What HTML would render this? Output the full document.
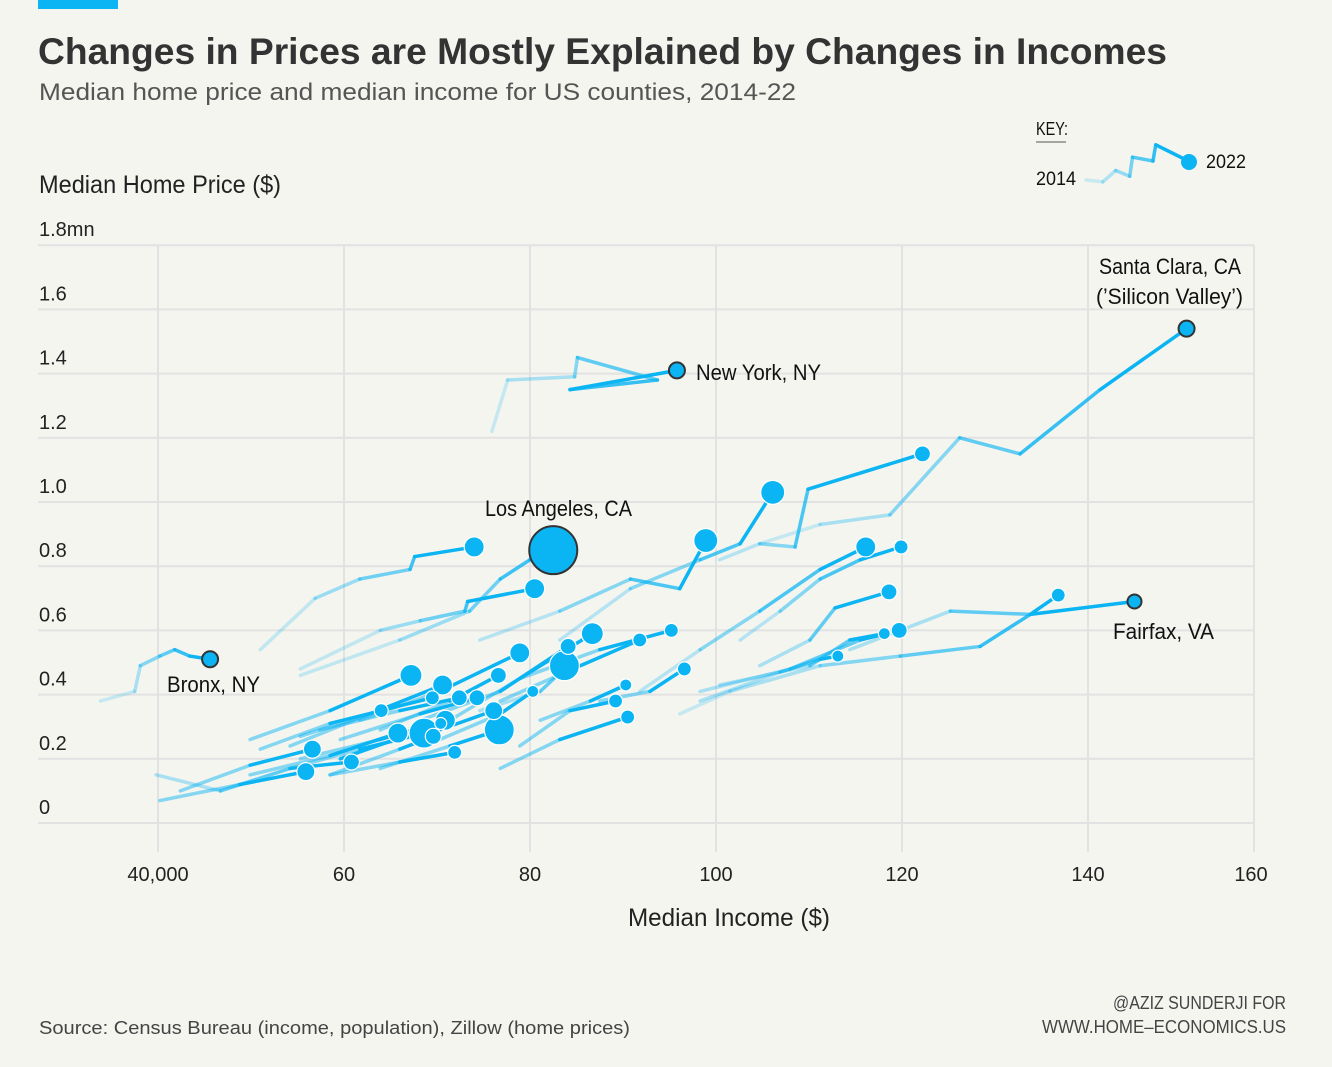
<!DOCTYPE html>
<html><head><meta charset="utf-8">
<style>
body{margin:0;background:#f5f5f0;}
svg{display:block;font-family:"Liberation Sans",sans-serif;}
</style></head>
<body>
<svg id="chart" width="1332" height="1067" viewBox="0 0 1332 1067">
<rect x="0" y="0" width="1332" height="1067" fill="#f5f5f0"/>
<rect x="38" y="0" width="80" height="9" fill="#0bb4f2"/>
<text x="38" y="64" font-weight="bold" font-size="37" fill="#333" textLength="1129" lengthAdjust="spacingAndGlyphs">Changes in Prices are Mostly Explained by Changes in Incomes</text>
<text x="39" y="100" font-size="24" fill="#555" textLength="757" lengthAdjust="spacingAndGlyphs">Median home price and median income for US counties, 2014-22</text>
<text x="39" y="193" font-size="25" fill="#222" textLength="242" lengthAdjust="spacingAndGlyphs">Median Home Price ($)</text>
<text x="628" y="926" font-size="25" fill="#222" textLength="202" lengthAdjust="spacingAndGlyphs">Median Income ($)</text>
<g id="grid"></g>
<g id="ticks"></g>
<g id="series"></g>
<g id="dots"></g>
<g font-size="22" fill="#111">
<text x="1099" y="274" textLength="142" lengthAdjust="spacingAndGlyphs">Santa Clara, CA</text>
<text x="1096" y="304" textLength="147" lengthAdjust="spacingAndGlyphs">(’Silicon Valley’)</text>
<text x="696" y="380" textLength="125" lengthAdjust="spacingAndGlyphs">New York, NY</text>
<text x="485" y="516" textLength="147" lengthAdjust="spacingAndGlyphs">Los Angeles, CA</text>
<text x="167" y="692" textLength="93" lengthAdjust="spacingAndGlyphs">Bronx, NY</text>
<text x="1113" y="639" textLength="101" lengthAdjust="spacingAndGlyphs">Fairfax, VA</text>
</g>
<g>
<text x="1036" y="135" font-size="18" fill="#111" textLength="32" lengthAdjust="spacingAndGlyphs">KEY:</text>
<line x1="1036" y1="142" x2="1066" y2="142" stroke="#555" stroke-width="1"/>
<text x="1036" y="185" font-size="19" fill="#111" textLength="40" lengthAdjust="spacingAndGlyphs">2014</text>
<text x="1206" y="168" font-size="19" fill="#111" textLength="40" lengthAdjust="spacingAndGlyphs">2022</text>
<g id="keyline"></g>
</g>
<text x="39" y="1034" font-size="18" fill="#444" textLength="591" lengthAdjust="spacingAndGlyphs">Source: Census Bureau (income, population), Zillow (home prices)</text>
<text x="1113" y="1009" font-size="18" fill="#444" textLength="173" lengthAdjust="spacingAndGlyphs">@AZIZ SUNDERJI FOR</text>
<text x="1042" y="1033" font-size="18" fill="#444" textLength="244" lengthAdjust="spacingAndGlyphs">WWW.HOME–ECONOMICS.US</text>
</svg>
<script>
const xTicks=[40,60,80,100,120,140];
const xTickLabels=["40,000","60","80","100","120","140"];
const yTicks=[0,0.2,0.4,0.6,0.8,1.0,1.2,1.4,1.6,1.8];
const yTickLabels=["0","0.2","0.4","0.6","0.8","1.0","1.2","1.4","1.6","1.8mn"];
const seriesNames=["santa-clara","new-york","bronx","los-angeles","fairfax","s6","s7","s8","s9","s10","s11","s12","s13","s14","s15","s16","s17","s18","s19","s20","s21","s22","s23","s24","s25","s26","s27","s28","s29","s30","s31","s32","s33","s34","s35","s36","s37","s38","s39","s40","s41","s42","s43","s44","s45","s46"];
const seriesIncome=[
[104.7,111.2,118.7,126.2,132.7,141.3,150.6],
[75.9,77.6,84.8,85.1,93.7,84.3,95.8],
[33.8,37.5,38.1,40.2,41.8,43.4,45.6],
[55.3,66,73.5,76.8,80,82.5],
[96.1,101.5,111.2,119.8,128.4,133.8,145],
[51,56.9,61.7,67.1,67.6,74],
[55.3,63.9,68.2,73,73.3,80.5],
[74.6,83.2,90.8,96.1,98.9],
[83.2,90.8,98.3,102.6,106.1],
[100.4,104.7,108.5,109.9,122.2],
[91.8,98.3,104.7,111.2,116.1],
[102.6,106.9,111.2,115.5,119.9],
[104.7,110.1,112.8,118.6],
[98.3,108,115.5,119.7],
[100.4,110.1,114.4,118.1],
[98.3,106.9,111.2,113.1],
[114.4,125.2,133.8,136.8],
[78.9,87.5,95.2],
[76.8,85.4,91.8],
[87.5,92.9,96.6],
[81.1,86.5,90.3],
[78.9,84.3,89.2],
[76.8,83.2,90.5],
[71.4,78.9,86.7],
[68.2,76.8,84.1],
[74.6,81.1,84.8,83.7],
[61.7,70.3,78.9],
[63.9,71.4,76.6],
[70.3,76.8,80.3],
[58.5,66,71.9],
[49.9,58.5,67.2],
[54.2,62.8,70.6],
[55.3,63.9,69.5],
[57.4,66,72.4],
[59.6,68.2,74.3],
[51,58.5,64],
[61.7,70.3,76.1],
[63.9,71.4,76.7],
[55.3,63.9,70.9],
[54.2,61.7,68.6],
[59.6,70.4],
[58.5,66,69.6],
[49.9,58.5,65.8],
[39.8,46.7,54.2,60.8],
[42.4,49.9,56.6],
[40.2,48.8,55.9]];
const seriesPrice=[
[.87,.93,.96,1.20,1.15,1.35,1.54],
[1.22,1.38,1.39,1.45,1.38,1.35,1.41],
[.38,.41,.49,.52,.54,.52,.51],
[.46,.57,.66,.76,.82,.85],
[.34,.41,.49,.52,.55,.65,.69],
[.54,.70,.76,.79,.83,.86],
[.48,.60,.63,.66,.69,.73],
[.57,.66,.76,.73,.88],
[.57,.73,.82,.87,1.03],
[.82,.87,.86,1.04,1.15],
[.41,.54,.66,.79,.86],
[.57,.66,.76,.82,.86],
[.49,.57,.67,.72],
[.41,.48,.57,.60],
[.43,.49,.57,.59],
[.38,.47,.51,.52],
[.54,.66,.65,.71],
[.45,.54,.60],
[.38,.49,.57],
[.38,.41,.48],
[.32,.38,.43],
[.24,.35,.38],
[.17,.26,.33],
[.32,.45,.59],
[.32,.41,.55],
[.35,.41,.51,.49],
[.32,.41,.53],
[.29,.38,.46],
[.26,.34,.41],
[.15,.19,.22],
[.26,.35,.46],
[.24,.34,.43],
[.27,.35,.39],
[.29,.35,.39],
[.26,.34,.39],
[.23,.31,.35],
[.23,.29,.35],
[.17,.24,.29],
[.20,.26,.32],
[.17,.23,.28],
[.20,.31],
[.15,.23,.27],
[.15,.21,.28],
[.15,.10,.17,.19],
[.10,.18,.23],
[.07,.12,.16]];
const seriesPop=[8,8,8,24,7,10,10,12,12,8,10,7,8,8,6,6,7,7,7,7,6,7,7,11,8,15,10,8,6,7,11,10,7,8,8,7,9,15,10,15,6,8,10,8,9,9];
const labelled=[0,1,2,3,4];
const keyIncome=[0,1.8,3.2,4.7,5,7.2,7.5,11];
const keyPrice=[0,-0.2,1,0.4,2.4,2,3.7,2];

const NS="http://www.w3.org/2000/svg";
function X(v){return 158+(v-40)*9.3;}
function Y(v){return 823-v*321;}
function mk(tag,attrs,parent){const e=document.createElementNS(NS,tag);for(const k in attrs)e.setAttribute(k,attrs[k]);parent.appendChild(e);return e;}
const grid=document.getElementById('grid'),ticks=document.getElementById('ticks');
yTicks.forEach((t,i)=>{
  const l=mk('line',{x1:38,x2:1254,y1:Y(t),y2:Y(t),stroke:'#e2e2e2','stroke-width':2},grid);
  
  
  const tx=mk('text',{x:39,y:Y(t)-9,'font-size':20,fill:'#222'},ticks);
  tx.textContent=yTickLabels[i];
  
  
});
xTicks.forEach((t,i)=>{
  const l=mk('line',{x1:X(t),x2:X(t),y1:245,y2:852,stroke:'#e2e2e2','stroke-width':2},grid);
  
  
  const tx=mk('text',{x:X(t),y:881,'font-size':20,fill:'#222','text-anchor':'middle'},ticks);
  tx.textContent=xTickLabels[i];
  
  
});
const ll=mk('line',{x1:1254,x2:1254,y1:245,y2:852,stroke:'#e2e2e2','stroke-width':2},grid);


const lt=mk('text',{x:1251,y:881,'font-size':20,fill:'#222','text-anchor':'middle'},ticks);
lt.textContent="160";



const sg=document.getElementById('series'),dg=document.getElementById('dots');
function drawLine(xs,ys,parent,name){
  const n=xs.length;
  for(let i=0;i<n-1;i++){
    const op=0.12+0.88*Math.pow((i+1)/(n-1),1.3);
    const seg=mk('line',{x1:xs[i],y1:ys[i],x2:xs[i+1],y2:ys[i+1],stroke:'#0bb4f2','stroke-width':3.5,'stroke-linecap':'round','stroke-opacity':op},parent);
    
    
  }
}
seriesIncome.forEach((inc,s)=>{
  const pr=seriesPrice[s];
  drawLine(inc.map(X),pr.map(Y),sg,seriesNames[s]);
});
const order=seriesIncome.map((_,i)=>i).sort((a,b)=>seriesPop[b]-seriesPop[a]);
order.forEach(s=>{
  const inc=seriesIncome[s],pr=seriesPrice[s],n=inc.length;
  const lab=labelled.includes(s);
  const c=mk('circle',{cx:X(inc[n-1]),cy:Y(pr[n-1]),r:seriesPop[s],fill:'#0bb4f2',stroke:lab?'#333':'#fff','stroke-width':lab?2:1.2},dg);
  
  
});
const kg=document.getElementById('keyline');
drawLine(keyIncome.map(v=>1086+v*9.3),keyPrice.map(v=>180-v*9.5),kg,'key');
const kd=mk('circle',{cx:1189,cy:162,r:8,fill:'#0bb4f2'},kg);


</script>
</body></html>
